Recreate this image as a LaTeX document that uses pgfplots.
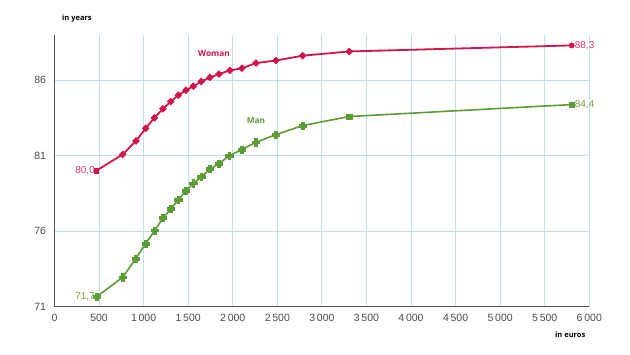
\documentclass[border=0pt]{standalone}
\usepackage{pgfplots}
\pgfplotsset{compat=1.18}
\usepackage{fontspec}
\setmainfont{Liberation Sans}
\newfontfamily\opensans{Open Sans}
\definecolor{wom}{HTML}{D2144A}
\definecolor{womlab}{HTML}{E03A68}
\definecolor{man}{HTML}{5C9B35}
\definecolor{manlab}{HTML}{7A9E3A}
\definecolor{gridblue}{HTML}{BEDFF5}
\definecolor{axgray}{HTML}{505050}
\definecolor{tickgray}{HTML}{4A4A4A}
\pgfdeclareplotmark{boldplus}{%
  \pgfpathmoveto{\pgfqpoint{-1.3pt}{-3.6pt}}%
  \pgfpathlineto{\pgfqpoint{1.3pt}{-3.6pt}}%
  \pgfpathlineto{\pgfqpoint{1.3pt}{-1.3pt}}%
  \pgfpathlineto{\pgfqpoint{3.6pt}{-1.3pt}}%
  \pgfpathlineto{\pgfqpoint{3.6pt}{1.3pt}}%
  \pgfpathlineto{\pgfqpoint{1.3pt}{1.3pt}}%
  \pgfpathlineto{\pgfqpoint{1.3pt}{3.6pt}}%
  \pgfpathlineto{\pgfqpoint{-1.3pt}{3.6pt}}%
  \pgfpathlineto{\pgfqpoint{-1.3pt}{1.3pt}}%
  \pgfpathlineto{\pgfqpoint{-3.6pt}{1.3pt}}%
  \pgfpathlineto{\pgfqpoint{-3.6pt}{-1.3pt}}%
  \pgfpathlineto{\pgfqpoint{-1.3pt}{-1.3pt}}%
  \pgfpathclose
  \pgfusepathqfillstroke}
\begin{document}
\begin{tikzpicture}
\begin{axis}[
  at={(0pt,0pt)}, anchor=south west,
  scale only axis, width=534.8pt, height=271.7pt,
  xmin=0, xmax=6000, ymin=71, ymax=89,
  axis x line=bottom, axis y line=left,
  axis line style={axgray, line width=1pt, -},
  xtick={0,500,...,6000},
  ytick={71,76,81,86},
  xmajorgrids, ymajorgrids,
  grid style={gridblue, line width=0.9pt},
  major tick length=0pt,
  tick label style={font=\fontsize{10.5}{12}\selectfont, text=tickgray},
  /pgf/number format/.cd, 1000 sep={\,}, assume math mode=true,
  /pgfplots/.cd,
  xticklabel style={yshift=-4pt},
  yticklabel style={xshift=-5pt},
  clip=false,
]
% Woman
\addplot[wom, line width=1.8pt, mark=square*, mark size=2.3pt, mark indices={2,...,19}, mark options={solid, rotate=45, line width=0.8pt}] coordinates {
(466,80.0) (765,81.09) (914,81.98) (1023,82.82) (1120,83.51) (1217,84.11)
(1304,84.59) (1389,85.01) (1475,85.34) (1557,85.61) (1647,85.92) (1744,86.19)
(1845,86.41) (1968,86.65) (2103,86.80) (2260,87.14) (2484,87.31) (2784,87.63)
(3307,87.91) (5802,88.31)};
\addplot[wom, only marks, mark=square*, mark size=2.3pt] coordinates {(466,80.0)};
\addplot[wom, only marks, mark=*, mark size=2.7pt] coordinates {(5802,88.31)};
% Man
\addplot[man, line width=1.6pt, mark=boldplus, mark indices={1,...,18}, mark options={line width=0.6pt}] coordinates {
(473,71.66) (765,72.95) (911,74.17) (1023,75.18) (1124,76.05) (1217,76.87)
(1304,77.47) (1389,78.08) (1475,78.68) (1557,79.17) (1647,79.59) (1744,80.12)
(1845,80.48) (1961,81.0) (2103,81.41) (2260,81.89) (2484,82.40) (2784,83.0)
(3307,83.60) (5802,84.39)};
\addplot[man, only marks, mark=square*, mark size=2.8pt] coordinates {(3307,83.60) (5802,84.39)};
% labels
\node[anchor=east, text=womlab, font=\fontsize{10}{11}\selectfont, inner sep=1pt] at (axis cs:466,80.0) {80,0};
\node[anchor=east, text=manlab, font=\fontsize{10}{11}\selectfont, inner sep=1pt] at (axis cs:466,71.66) {71,7};
\node[anchor=west, text=womlab, font=\fontsize{10}{11}\selectfont, inner sep=3pt] at (axis cs:5802,88.31) {88,3};
\node[anchor=west, text=manlab, font=\fontsize{10}{11}\selectfont, inner sep=3pt] at (axis cs:5802,84.39) {84,4};
\node[text=wom, font=\opensans\bfseries\fontsize{8.3}{9}\selectfont] at (axis cs:1789,87.78) {Woman};
\node[text=man, font=\opensans\bfseries\fontsize{8.3}{9}\selectfont] at (axis cs:2260,83.33) {Man};
\end{axis}
\node[anchor=west, font=\opensans\bfseries\fontsize{7.5}{9}\selectfont, inner sep=0pt] at (7.5pt,287.7pt) {in years};
\node[anchor=west, font=\opensans\bfseries\fontsize{7.5}{9}\selectfont, inner sep=0pt] at (500.5pt,-28pt) {in euros};
\useasboundingbox (-54.5pt,-47.3pt) rectangle (575.5pt,306.7pt);
\end{tikzpicture}
\end{document}
